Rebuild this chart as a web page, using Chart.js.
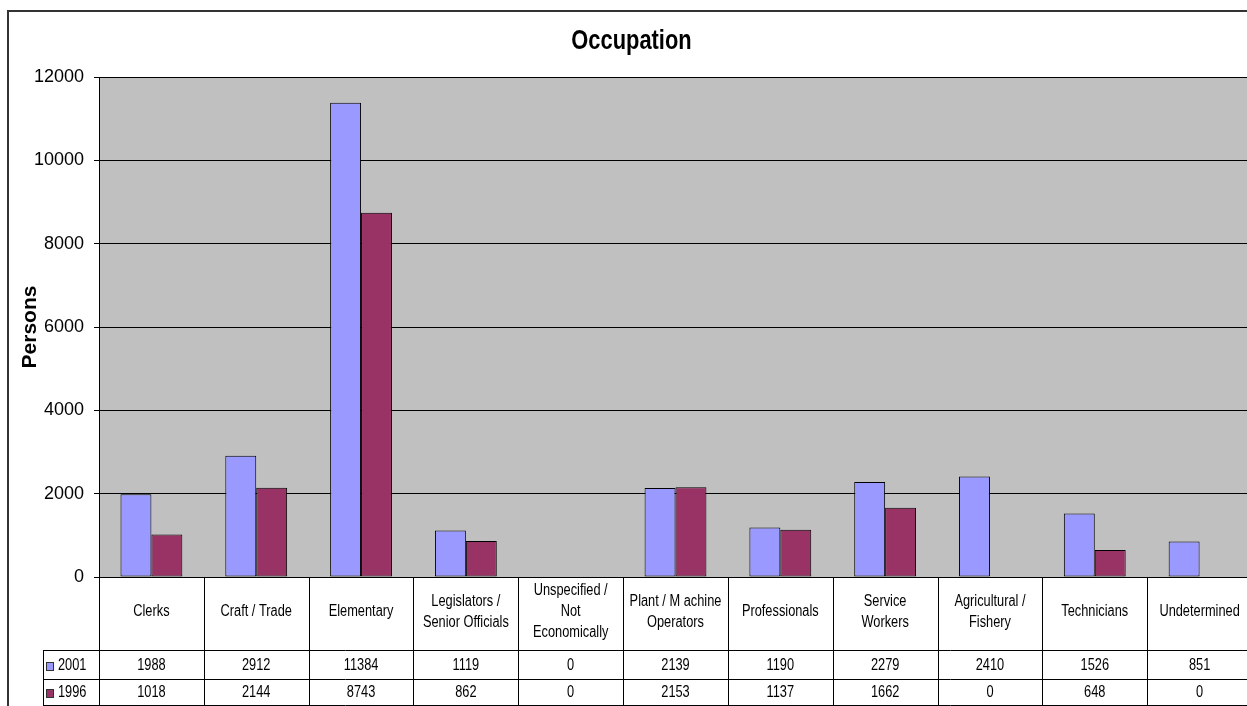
<!DOCTYPE html>
<html>
<head>
<meta charset="utf-8">
<title>Occupation</title>
<script src="https://cdn.jsdelivr.net/npm/chart.js@4.4.1/dist/chart.umd.min.js"></script>
<style>
  html, body { margin: 0; padding: 0; background: #ffffff; overflow: hidden; }
  #wrap { position: relative; width: 1247px; height: 706px; overflow: hidden; }
  #chart { display: block; }
</style>
</head>
<body>
<div id="wrap"><canvas id="chart" width="1252" height="706"></canvas></div>
<script>
// Occupation categories (multi-line labels as shown in the data table header)
const categories = [
  ['Clerks'],
  ['Craft / Trade'],
  ['Elementary'],
  ['Legislators /', 'Senior Officials'],
  ['Unspecified /', 'Not', 'Economically'],
  ['Plant / M achine', 'Operators'],
  ['Professionals'],
  ['Service', 'Workers'],
  ['Agricultural /', 'Fishery'],
  ['Technicians'],
  ['Undetermined']
];

const seriesNames = ['2001', '1996'];
const persons2001 = [1988, 2912, 11384, 1119, 0, 2139, 1190, 2279, 2410, 1526, 851];
const persons1996 = [1018, 2144, 8743, 862, 0, 2153, 1137, 1662, 0, 648, 0];

const yTicks = [0, 2000, 4000, 6000, 8000, 10000, 12000];

const chartTitle = 'Occupation';
const colors = ['#9999FF', '#993366'];
const SANS = "'Liberation Sans', Arial, sans-serif";

// Draws text squeezed horizontally, giving a narrow typeface look
function narrowText(ctx, text, x, y, squeeze) {
  ctx.save();
  ctx.translate(x, y);
  ctx.scale(squeeze, 1);
  ctx.fillText(text, 0, 0);
  ctx.restore();
}

// Grey plot background, outer frame and chart heading
const frameAndBackground = {
  id: 'frameAndBackground',
  beforeDraw(chart) {
    const { ctx, chartArea: a } = chart;
    ctx.save();
    ctx.fillStyle = '#ffffff';
    ctx.fillRect(0, 0, chart.width, chart.height);
    ctx.fillStyle = '#C0C0C0';
    ctx.fillRect(a.left, a.top, a.right - a.left, a.bottom - a.top);
    ctx.restore();
  },
  afterDraw(chart) {
    const { ctx } = chart;
    ctx.save();
    ctx.strokeStyle = '#333333';
    ctx.lineWidth = 2;
    ctx.beginPath();
    ctx.moveTo(8, chart.height + 2);
    ctx.lineTo(8, 11);
    ctx.lineTo(chart.width + 2, 11);
    ctx.stroke();

    ctx.fillStyle = '#000000';
    ctx.font = 'bold 27px ' + SANS;
    ctx.textAlign = 'center';
    ctx.textBaseline = 'alphabetic';
    narrowText(ctx, chartTitle, 631.5, 48.5, 0.81);
    ctx.restore();
  }
};

// Data table under the category axis, laid out on the x scale
const dataTable = {
  id: 'dataTable',
  afterDraw(chart) {
    const { ctx, chartArea: a } = chart;
    const xs = chart.scales.x;
    const n = categories.length;
    const step = xs.getPixelForValue(1) - xs.getPixelForValue(0);
    const edges = [];
    for (let i = 0; i <= n; i++) edges.push(xs.getPixelForValue(0) - step / 2 + i * step);

    const top = a.bottom;
    const headBottom = top + 73;
    const row1Bottom = headBottom + 29;
    const row2Bottom = row1Bottom + 26;
    const keyLeft = 43;
    const right = chart.width + 2;
    const px = v => Math.round(v) + 0.5;

    ctx.save();
    ctx.strokeStyle = '#000000';
    ctx.lineWidth = 1;
    ctx.beginPath();
    [headBottom, row1Bottom, row2Bottom].forEach(y => {
      ctx.moveTo(keyLeft, px(y));
      ctx.lineTo(right, px(y));
    });
    edges.forEach(x => {
      ctx.moveTo(px(x), top);
      ctx.lineTo(px(x), row2Bottom + 1);
    });
    ctx.moveTo(px(keyLeft), headBottom);
    ctx.lineTo(px(keyLeft), row2Bottom + 1);
    ctx.stroke();

    ctx.fillStyle = '#000000';
    ctx.textAlign = 'center';
    ctx.textBaseline = 'middle';
    ctx.font = '16px ' + SANS;
    const headMid = top + 35;
    categories.forEach((lines, i) => {
      const cx = (edges[i] + edges[i + 1]) / 2;
      lines.forEach((t, j) => {
        narrowText(ctx, t, cx, headMid + (j - (lines.length - 1) / 2) * 21, 0.8);
      });
    });

    const rows = [
      { name: seriesNames[0], values: persons2001, color: colors[0], mid: (headBottom + row1Bottom) / 2 + 1 },
      { name: seriesNames[1], values: persons1996, color: colors[1], mid: (row1Bottom + row2Bottom) / 2 + 1 }
    ];
    rows.forEach(r => {
      r.values.forEach((v, i) => {
        const cx = (edges[i] + edges[i + 1]) / 2;
        narrowText(ctx, String(v), cx, r.mid, 0.8);
      });
      ctx.fillStyle = r.color;
      ctx.fillRect(47, Math.round(r.mid) - 3, 6, 7);
      ctx.strokeStyle = '#333333';
      ctx.strokeRect(46.5, Math.round(r.mid) - 3.5, 7, 8);
      ctx.fillStyle = '#000000';
      ctx.textAlign = 'left';
      narrowText(ctx, r.name, 58, r.mid, 0.8);
      ctx.textAlign = 'center';
    });
    ctx.restore();
  }
};

new Chart(document.getElementById('chart'), {
  type: 'bar',
  data: {
    labels: categories,
    datasets: [
      {
        label: seriesNames[0],
        data: persons2001,
        backgroundColor: colors[0],
        borderColor: '#000000',
        borderWidth: 1,
        borderSkipped: false,
        barPercentage: 1.0,
        categoryPercentage: 0.59
      },
      {
        label: seriesNames[1],
        data: persons1996,
        backgroundColor: colors[1],
        borderColor: '#000000',
        borderWidth: 1,
        borderSkipped: false,
        barPercentage: 1.0,
        categoryPercentage: 0.59
      }
    ]
  },
  options: {
    responsive: false,
    animation: false,
    layout: { padding: { left: 0, right: 0, top: 77, bottom: 129 } },
    plugins: {
      legend: { display: false },
      tooltip: { enabled: false },
      title: { display: false }
    },
    scales: {
      x: {
        display: false
      },
      y: {
        min: 0,
        max: 12000,
        afterBuildTicks(scale) {
          scale.ticks = yTicks.map(v => ({ value: v }));
        },
        afterFit(scale) { scale.width = 99; },
        ticks: {
          color: '#000000',
          padding: 10,
          font: { family: SANS, size: 18 },
          callback: v => String(v)
        },
        grid: {
          color: '#000000',
          lineWidth: 1,
          tickLength: 5,
          drawTicks: true
        },
        border: { display: true, color: '#000000', width: 1 },
        title: {
          display: true,
          text: 'Persons',
          color: '#000000',
          font: { family: SANS, size: 21, weight: 'bold', lineHeight: 1.2 },
          padding: { top: 18, bottom: 0 }
        }
      }
    }
  },
  plugins: [frameAndBackground, dataTable]
});
</script>
</body>
</html>
